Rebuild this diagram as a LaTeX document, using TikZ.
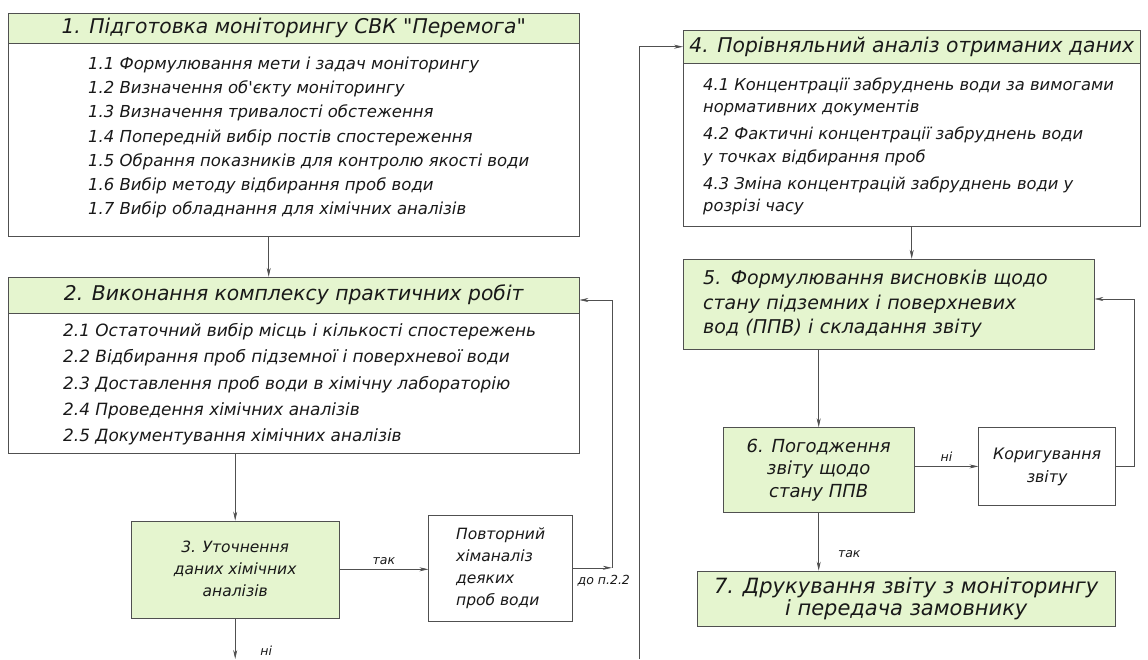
\documentclass[tikz,border=0pt]{standalone}
\usepackage{fontspec}
\newfontfamily\diafont{DejaVu Sans}
\usetikzlibrary{arrows.meta, positioning}
\definecolor{boxgreen}{RGB}{229,245,207}
\definecolor{linegray}{RGB}{80,80,80}
\definecolor{inkgray}{RGB}{25,25,25}

\begin{document}
\begin{tikzpicture}[
    x=1pt, y=-1pt,
    every node/.style={text=inkgray},
    headbox/.style={rectangle, draw=linegray, fill=boxgreen, inner sep=0pt, align=center, font=\diafont\itshape\fontsize{20.3}{22.5}\selectfont},
    bodybox/.style={rectangle, draw=linegray, fill=white, inner sep=0pt},
    itemlist/.style={anchor=north west, inner sep=0pt, align=left, font=\diafont\itshape\fontsize{16.5}{24.3}\selectfont},
    sidebox/.style={rectangle, draw=linegray, fill=white, inner sep=0pt, align=center, font=\diafont\itshape\fontsize{15.5}{22}\selectfont},
    arrow/.style={-{Stealth[length=9pt, width=4pt]}, draw=linegray, line width=0.6pt},
    tag/.style={font=\diafont\itshape\fontsize{12.5}{14}\selectfont, inner sep=1pt}
]
\useasboundingbox (0,0) rectangle (1148,659);

% Stage 1
\node[headbox, minimum width=571pt, minimum height=30pt, anchor=north west] (head1) at (8,13) {1. Підготовка моніторингу СВК "Перемога"};
\node[bodybox, minimum width=571pt, minimum height=193pt, below=0pt of head1] (body1) {};
\node[itemlist] (list1) at ([xshift=80pt, yshift=-13pt]body1.north west) {1.1 Формулювання мети і задач моніторингу\\
1.2 Визначення об'єкту моніторингу\\
1.3 Визначення тривалості обстеження\\
1.4 Попередній вибір постів спостереження\\
1.5 Обрання показників для контролю якості води\\
1.6 Вибір методу відбирання проб води\\
1.7 Вибір обладнання для хімічних аналізів};

% Stage 2
\node[headbox, minimum width=571pt, minimum height=36pt, below=40pt of body1] (head2) {2. Виконання комплексу практичних робіт};
\node[bodybox, minimum width=571pt, minimum height=140pt, below=0pt of head2] (body2) {};
\node[itemlist, font=\diafont\itshape\fontsize{16.9}{26.3}\selectfont] (list2) at ([xshift=55pt, yshift=-10pt]body2.north west) {2.1 Остаточний вибір місць і кількості спостережень\\
2.2 Відбирання проб підземної і поверхневої води\\
2.3 Доставлення проб води в хімічну лабораторію\\
2.4 Проведення хімічних аналізів\\
2.5 Документування хімічних аналізів};

% Stage 3
\node[sidebox, fill=boxgreen, minimum width=208pt, minimum height=97pt, below=67pt of body2, xshift=-58.5pt] (check3) {3. Уточнення\\даних хімічних\\аналізів};
\node[sidebox, align=left, minimum width=144pt, minimum height=106pt, right=89pt of check3, yshift=1.5pt] (retest) {Повторний\\хіманаліз\\деяких\\проб води};

% Stage 4
\node[headbox, minimum width=457pt, minimum height=33pt, anchor=north west] (head4) at (683,30) {4. Порівняльний аналіз отриманих даних};
\node[bodybox, minimum width=457pt, minimum height=163pt, below=0pt of head4] (body4) {};
\node[itemlist, font=\diafont\itshape\fontsize{16.3}{22.5}\selectfont] (list4) at ([xshift=20pt, yshift=-14pt]body4.north west) {4.1 Концентрації забруднень води за вимогами\\
нормативних документів\\[4.5pt]
4.2 Фактичні концентрації забруднень води\\
у точках відбирання проб\\[4.5pt]
4.3 Зміна концентрацій забруднень води у\\
розрізі часу};

% Stages 5-7
\node[headbox, align=left, text width=371pt, inner xsep=20pt, minimum height=90pt, font=\diafont\itshape\fontsize{19}{24.5}\selectfont, below=32pt of body4.south west, anchor=north west] (concl5) {5. Формулювання висновків щодо\\стану підземних і поверхневих\\вод (ППВ) і складання звіту};
\node[headbox, minimum width=191pt, minimum height=85pt, font=\diafont\itshape\fontsize{18}{22.5}\selectfont, below=78pt of concl5, xshift=-70pt] (agree6) {6. Погодження\\звіту щодо\\стану ППВ};
\node[sidebox, minimum width=137pt, minimum height=78pt, font=\diafont\itshape\fontsize{15.8}{23}\selectfont, right=64pt of agree6, yshift=3.5pt] (fix) {Коригування\\звіту};
\node[headbox, minimum width=418pt, minimum height=55pt, font=\diafont\itshape\fontsize{21}{22}\selectfont, below=58pt of agree6, xshift=87.5pt] (final7) {7. Друкування звіту з моніторингу\\і передача замовнику};

% Links
\coordinate (back22) at ([xshift=39pt]retest.east);
\coordinate (exit3) at ([yshift=-41pt]check3.south);
\coordinate (enter4) at (639,659);

\draw[arrow] ([xshift=-25pt]body1.south) -- ([xshift=-25pt]head2.north);
\draw[arrow] (body2.south -| check3.north) -- (check3.north);
\draw[arrow] (check3.east) -- node[tag, above=3pt] {так} (check3.east -| retest.west);
\draw[arrow] (retest.east) -- (back22);
\draw[arrow] (back22) |- ([yshift=-5pt]head2.east);
\node[tag] (to22) at ([xshift=-8pt, yshift=-13pt]back22) {до п.2.2};
\draw[arrow] (check3.south) -- (exit3);
\node[tag] (no3) at ([xshift=31pt, yshift=8pt]exit3) {ні};

\draw[arrow] (enter4) |- (head4.west);
\draw[arrow] (body4.south) -- (body4.south |- concl5.north);
\draw[arrow] (concl5.south -| agree6.north) -- (agree6.north);
\draw[arrow] (agree6.east |- fix.west) -- node[tag, above=4pt] {ні} (fix.west);
\draw[arrow] (fix.east) -- ++(18,0) |- ([yshift=5pt]concl5.east);
\draw[arrow] (agree6.south) -- node[tag, pos=0.72, right=18pt] {так} (final7.north -| agree6.south);

\end{tikzpicture}
\end{document}
